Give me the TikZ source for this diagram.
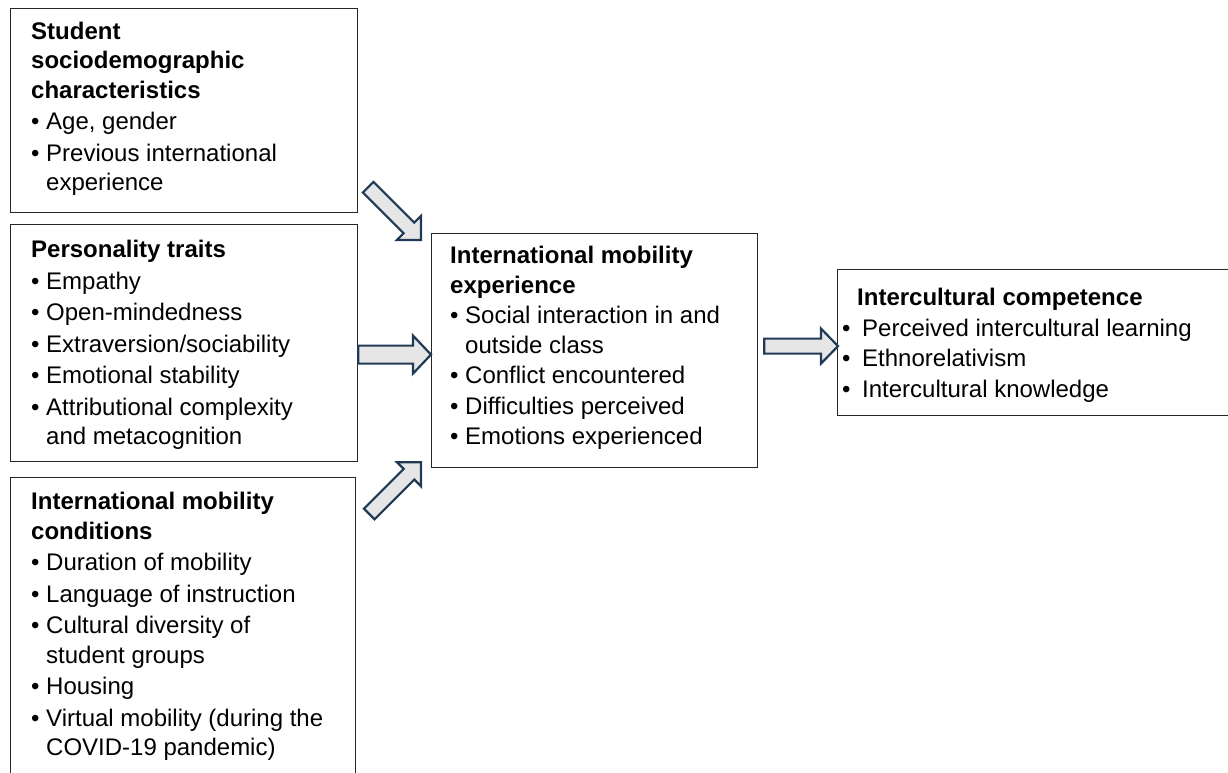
\documentclass[tikz,border=0pt]{standalone}
\usepackage{fontspec}
\setmainfont{Liberation Sans}
\usetikzlibrary{calc}
\definecolor{arrowblue}{HTML}{203A55}
\definecolor{arrowfill}{HTML}{E6E6E6}
\definecolor{boxline}{HTML}{262626}
\newcommand{\bul}{\makebox[15pt][l]{\textbullet}}
\newcommand{\ind}{\hspace*{15pt}}
\newcommand{\rbul}{\hspace*{-15pt}\makebox[20pt][l]{\textbullet}}
\newcommand{\blockarr}[5]{%
  \path[blockarrow] let \p1=(#1), \p2=(#2),
    \n1={atan2(\y2-\y1,\x2-\x1)}, \n2={veclen(\x2-\x1,\y2-\y1)} in
    [shift={(\p1)}, rotate=\n1]
    (0pt,-#3pt) -- ({\n2-#5pt},-#3pt) -- ({\n2-#5pt},-#4pt) -- (\n2,0pt)
    -- ({\n2-#5pt},#4pt) -- ({\n2-#5pt},#3pt) -- (0pt,#3pt) -- cycle;}
\tikzset{
  box/.style={draw=boxline, line width=1.2pt, fill=white, inner sep=0pt, anchor=north west},
  txt/.style={inner sep=0pt, anchor=north west, align=left,
    font=\fontsize{24}{29.5}\selectfont},
  blockarrow/.style={draw=arrowblue, fill=arrowfill, line width=2.2pt, line join=miter},
}
\begin{document}
\begin{tikzpicture}[x=1pt, y=-1pt]
\useasboundingbox (0,0) rectangle (1228,773);
\clip (0,0) rectangle (1228,773);
% boxes
\node[box, minimum width=347pt, minimum height=204pt] (b1) at (10,8) {};
\node[box, minimum width=347pt, minimum height=237pt] (b2) at (10,224) {};
\node[box, minimum width=345pt, minimum height=330pt] (b3) at (10,477) {};
\node[box, minimum width=326pt, minimum height=234pt] (c) at (431,233) {};
\node[box, minimum width=420pt, minimum height=146pt] (r) at (837,269) {};
% texts
\node[txt] (t1) at ($(b1.north west)+(21,13.5)$) {%
\textbf{Student}\\ \textbf{sociodemographic}\\ \textbf{characteristics}\\[2pt]
\bul Age, gender\\[2pt]
\bul Previous international\\ \ind experience};
\node[txt] (t2) at ($(b2.north west)+(21,16.4)$) {%
\textbf{Personality traits}\\[2pt]
\bul Empathy\\[2pt]
\bul Open-mindedness\\[2pt]
\bul Extraversion/sociability\\[2pt]
\bul Emotional stability\\[2pt]
\bul Attributional complexity\\ \ind and metacognition};
\node[txt] (t3) at ($(b3.north west)+(21,15.4)$) {%
\textbf{International mobility}\\ \textbf{conditions}\\[2pt]
\bul Duration of mobility\\[2pt]
\bul Language of instruction\\[2pt]
\bul Cultural diversity of\\ \ind student groups\\[2pt]
\bul Housing\\[2pt]
\bul Virtual mobility (during the\\ \ind COVID-19 pandemic)};
\node[txt] (tc) at ($(c.north west)+(19,13.4)$) {%
\textbf{International mobility}\\ \textbf{experience}\\[1pt]
\bul Social interaction in and\\ \ind outside class\\[1pt]
\bul Conflict encountered\\[1pt]
\bul Difficulties perceived\\[1pt]
\bul Emotions experienced};
\node[txt] (tr) at ($(r.north west)+(20,19)$) {%
\textbf{Intercultural competence}\\[1pt]
\rbul Perceived intercultural learning\\[1pt]
\rbul Ethnorelativism\\[1pt]
\rbul Intercultural knowledge};
% arrow end points
\coordinate (a1s) at ($(b1.south east)+(10,-26)$);
\coordinate (a1e) at ($(c.north west)+(-10,7)$);
\coordinate (a2s) at ($(b2.east)+(0,11.5)$);
\coordinate (a2e) at ($(c.west)+(0,4)$);
\coordinate (a3s) at ($(b3.north east)+(13,37)$);
\coordinate (a3e) at ($(c.south west)+(-10,-6)$);
\coordinate (a4s) at ($(c.east)+(6,-4.5)$);
\coordinate (a4e) at ($(r.west)+(1,3.5)$);
\blockarr{a1s}{a1e}{7.5}{17}{17}
\blockarr{a2s}{a2e}{9}{19}{18}
\blockarr{a3s}{a3e}{7.5}{17}{17}
\blockarr{a4s}{a4e}{7.5}{17.5}{17}
\end{tikzpicture}
\end{document}
